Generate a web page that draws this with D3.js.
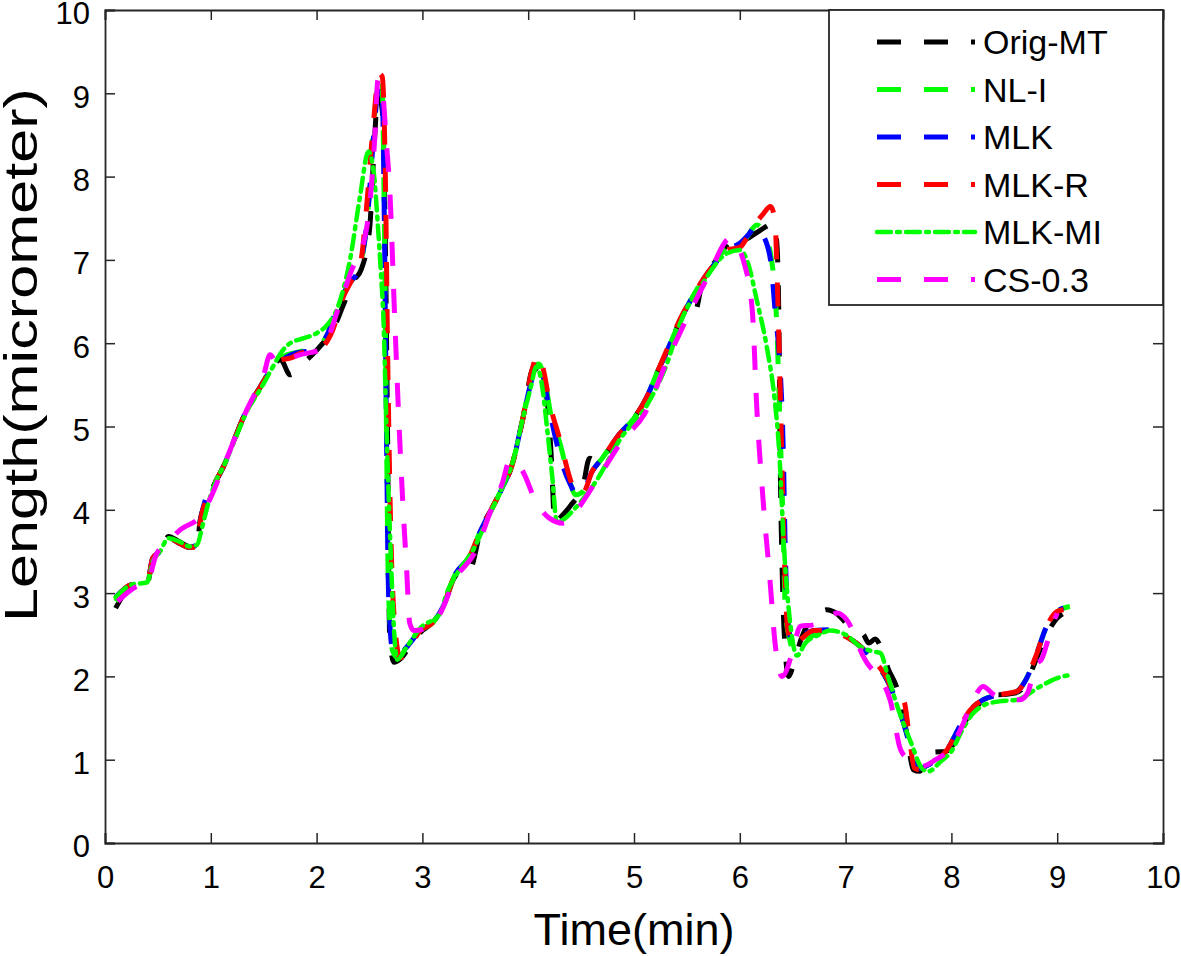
<!DOCTYPE html>
<html>
<head>
<meta charset="utf-8">
<script src="https://cdn.jsdelivr.net/npm/d3@7"></script>
<style>
  html, body { margin: 0; padding: 0; background: #fff; }
  svg { display: block; }
  text { font-family: Arial, "Liberation Sans", Helvetica, sans-serif; fill: #000; }
</style>
</head>
<body>
<svg id="chart" width="1181" height="956"></svg>
<script>
// ---------------- data ----------------
const xTicks = [0, 1, 2, 3, 4, 5, 6, 7, 8, 9, 10];
const yTicks = [0, 1, 2, 3, 4, 5, 6, 7, 8, 9, 10];
const seriesNames = ["Orig-MT", "NL-I", "MLK", "MLK-R", "MLK-MI", "CS-0.3"];

// Orig-MT
const origX = [0.10,0.25,0.40,0.45,0.52,0.60,0.70,0.80,0.87,0.90,0.97,1.05,1.12,1.24,1.34,1.47,1.58,1.66,1.75,1.87,1.95,2.06,2.15,2.25,2.35,2.42,2.50,2.55,2.58,2.62,2.65,2.67,2.69,2.73,2.80,2.90,3.00,3.10,3.20,3.30,3.38,3.42,3.46,3.55,3.65,3.75,3.85,3.95,4.05,4.12,4.18,4.22,4.25,4.30,4.40,4.52,4.58,4.62,4.66,4.75,4.87,5.00,5.12,5.22,5.31,5.44,5.52,5.57,5.65,5.78,5.88,5.96,6.05,6.15,6.25,6.32,6.35,6.37,6.38,6.40,6.43,6.46,6.52,6.58,6.64,6.72,6.82,6.92,7.02,7.10,7.17,7.22,7.28,7.33,7.40,7.50,7.58,7.64,7.70,7.76,7.83,7.95,8.05,8.15,8.25,8.35,8.45,8.60,8.70,8.80,8.90,9.00,9.05];
const origY = [2.82,3.08,3.12,3.40,3.50,3.68,3.62,3.56,3.58,3.88,4.12,4.35,4.52,4.90,5.20,5.48,5.72,5.80,5.62,5.76,5.85,6.00,6.15,6.45,6.75,6.88,7.36,8.50,9.00,8.80,7.20,5.00,2.50,2.17,2.22,2.40,2.55,2.65,2.85,3.18,3.28,3.25,3.30,3.75,4.00,4.25,4.55,5.10,5.70,5.65,5.30,4.60,3.83,3.90,4.05,4.30,4.62,4.60,4.55,4.70,4.92,5.10,5.35,5.65,5.90,6.28,6.45,6.35,6.76,7.00,7.18,7.28,7.25,7.32,7.40,7.44,7.20,6.20,4.80,3.30,2.30,2.00,2.20,2.45,2.62,2.72,2.80,2.75,2.62,2.55,2.50,2.40,2.45,2.36,2.10,1.80,1.30,0.88,0.86,1.00,1.09,1.10,1.25,1.50,1.65,1.80,1.78,1.80,1.90,2.20,2.50,2.70,2.75];

// NL-I (mostly hidden under the other curves)
const nliX = [0.10,0.25,0.40,0.45,0.52,0.60,0.70,0.80,0.87,0.90,0.97,1.05,1.12,1.24,1.34,1.47,1.58,1.70,1.85,2.00,2.10,2.20,2.30,2.40,2.48,2.54,2.59,2.62,2.64,2.66,2.68,2.72,2.77,2.85,2.98,3.10,3.20,3.30,3.45,3.55,3.65,3.75,3.85,3.95,4.05,4.10,4.15,4.22,4.30,4.38,4.45,4.52,4.60,4.70,4.87,5.00,5.12,5.22,5.31,5.44,5.55,5.65,5.78,5.88,6.00,6.08,6.16,6.22,6.30,6.35,6.38,6.41,6.43,6.47,6.52,6.60,6.70,6.85,7.00,7.10,7.26,7.39,7.50,7.58,7.65,7.70,7.80,7.96,8.08,8.18,8.30,8.46,8.62,8.70,8.80,8.90,9.00,9.12];
const nliY = [2.90,3.10,3.12,3.40,3.50,3.66,3.60,3.55,3.58,3.85,4.12,4.35,4.52,4.90,5.20,5.48,5.72,5.85,5.90,5.95,6.10,6.45,6.70,6.90,7.50,8.60,9.20,9.10,7.50,5.00,3.00,2.30,2.22,2.35,2.55,2.65,2.85,3.20,3.45,3.75,4.00,4.25,4.55,5.10,5.70,5.75,5.60,5.10,4.80,4.40,4.18,4.22,4.45,4.62,4.92,5.10,5.35,5.65,5.90,6.28,6.55,6.76,6.98,7.15,7.15,7.30,7.42,7.35,7.00,6.20,5.00,3.80,2.80,2.45,2.30,2.40,2.50,2.55,2.48,2.40,2.20,1.96,1.65,1.30,0.95,0.90,0.95,1.12,1.40,1.60,1.72,1.78,1.82,1.95,2.25,2.60,2.78,2.84];

// MLK
const mlkX = [0.10,0.25,0.40,0.45,0.52,0.60,0.70,0.80,0.87,0.90,0.97,1.05,1.12,1.24,1.34,1.47,1.58,1.70,1.80,1.90,2.00,2.10,2.20,2.30,2.40,2.48,2.54,2.59,2.62,2.64,2.66,2.68,2.72,2.77,2.85,2.98,3.10,3.20,3.30,3.45,3.55,3.65,3.75,3.85,3.95,4.05,4.09,4.14,4.20,4.26,4.32,4.40,4.46,4.52,4.60,4.70,4.87,5.00,5.12,5.22,5.31,5.44,5.55,5.65,5.78,5.88,6.00,6.08,6.16,6.22,6.29,6.34,6.37,6.41,6.43,6.46,6.50,6.58,6.70,6.85,7.00,7.10,7.26,7.39,7.50,7.58,7.65,7.70,7.80,7.96,8.08,8.18,8.30,8.46,8.62,8.70,8.80,8.90,9.00,9.06];
const mlkY = [2.95,3.10,3.12,3.42,3.50,3.66,3.60,3.55,3.58,3.85,4.20,4.35,4.52,4.90,5.20,5.48,5.70,5.82,5.88,5.90,5.95,6.10,6.45,6.70,6.90,7.50,8.50,9.10,9.00,7.50,5.00,3.00,2.30,2.25,2.35,2.55,2.65,2.85,3.20,3.45,3.75,4.00,4.25,4.55,5.10,5.62,5.70,5.60,5.20,4.85,4.56,4.30,4.18,4.22,4.45,4.62,4.92,5.10,5.35,5.65,5.90,6.28,6.55,6.76,6.98,7.12,7.20,7.30,7.42,7.30,7.00,6.30,5.90,4.75,3.50,2.60,2.40,2.48,2.55,2.56,2.48,2.40,2.20,1.96,1.62,1.30,0.95,0.90,0.95,1.12,1.40,1.60,1.72,1.78,1.82,1.95,2.25,2.60,2.78,2.82];

// MLK-R
const mlkrX = [0.10,0.25,0.40,0.45,0.52,0.60,0.70,0.80,0.87,0.90,0.97,1.05,1.12,1.24,1.34,1.47,1.58,1.66,1.75,1.85,1.95,2.05,2.15,2.25,2.35,2.42,2.47,2.54,2.59,2.62,2.65,2.67,2.70,2.74,2.79,2.86,2.98,3.10,3.20,3.30,3.45,3.55,3.65,3.75,3.85,3.95,4.04,4.09,4.14,4.20,4.30,4.41,4.47,4.53,4.60,4.70,4.87,5.00,5.12,5.22,5.31,5.44,5.55,5.65,5.78,5.88,6.00,6.06,6.13,6.22,6.29,6.33,6.36,6.39,6.42,6.45,6.50,6.58,6.70,6.85,7.00,7.10,7.26,7.39,7.48,7.55,7.60,7.65,7.70,7.80,7.96,8.08,8.18,8.30,8.46,8.62,8.70,8.80,8.90,9.00,9.06];
const mlkrY = [2.93,3.10,3.12,3.42,3.50,3.66,3.60,3.55,3.55,3.85,4.15,4.35,4.52,4.90,5.20,5.48,5.70,5.80,5.82,5.88,5.90,5.95,6.15,6.55,6.80,7.00,7.60,8.68,9.24,9.20,8.00,6.00,3.80,2.60,2.22,2.32,2.55,2.65,2.85,3.20,3.45,3.75,4.00,4.25,4.55,5.10,5.70,5.86,5.70,5.30,4.84,4.32,4.18,4.22,4.45,4.62,4.92,5.10,5.35,5.65,5.92,6.30,6.55,6.76,6.98,7.12,7.15,7.25,7.40,7.55,7.64,7.50,6.50,5.00,3.50,2.60,2.36,2.45,2.55,2.55,2.48,2.40,2.20,1.98,1.72,1.70,1.30,0.90,0.88,0.95,1.12,1.40,1.60,1.72,1.78,1.82,1.95,2.25,2.60,2.78,2.80];

// MLK-MI
const mlkmiX = [0.10,0.25,0.40,0.45,0.52,0.60,0.70,0.80,0.87,0.92,0.97,1.05,1.12,1.24,1.34,1.47,1.58,1.66,1.75,1.88,2.00,2.10,2.19,2.32,2.41,2.49,2.54,2.58,2.61,2.63,2.66,2.70,2.73,2.76,2.85,2.98,3.17,3.23,3.33,3.48,3.64,3.75,3.86,3.95,4.02,4.08,4.13,4.18,4.23,4.27,4.35,4.43,4.65,4.87,5.12,5.31,5.44,5.65,5.88,6.00,6.08,6.16,6.26,6.33,6.37,6.42,6.48,6.54,6.62,6.75,6.85,7.00,7.15,7.26,7.33,7.40,7.50,7.62,7.72,7.78,7.90,8.00,8.10,8.20,8.30,8.45,8.62,8.84,9.00,9.14];
const mlkmiY = [2.95,3.10,3.13,3.38,3.50,3.66,3.62,3.56,3.58,3.80,4.05,4.35,4.52,4.88,5.18,5.45,5.70,5.88,6.00,6.06,6.12,6.22,6.40,7.03,7.76,8.30,8.05,7.40,6.80,6.36,5.00,3.50,2.60,2.20,2.35,2.58,2.76,3.00,3.24,3.52,3.96,4.25,4.60,5.10,5.45,5.72,5.50,4.96,4.36,3.85,3.90,4.00,4.36,4.85,5.25,5.75,6.25,6.72,7.08,7.12,6.95,6.52,5.92,5.32,4.75,3.50,2.60,2.25,2.40,2.50,2.55,2.50,2.35,2.30,2.28,2.00,1.60,1.20,0.90,0.86,0.98,1.10,1.35,1.55,1.65,1.70,1.72,1.88,1.98,2.02];

// CS-0.3
const csX = [0.12,0.30,0.40,0.48,0.60,0.71,0.90,1.00,1.12,1.24,1.34,1.45,1.50,1.56,1.62,1.75,1.84,2.03,2.12,2.20,2.32,2.47,2.52,2.55,2.58,2.62,2.66,2.69,2.74,2.78,2.82,2.85,2.88,2.92,3.07,3.17,3.30,3.50,3.65,3.75,3.83,3.94,4.08,4.20,4.33,4.46,4.65,4.90,5.10,5.30,5.50,5.70,5.91,6.05,6.12,6.16,6.22,6.29,6.33,6.40,6.50,6.57,6.70,6.85,6.92,7.01,7.17,7.42,7.52,7.60,7.72,7.85,8.00,8.10,8.20,8.30,8.40,8.55,8.65,8.72,8.80,8.85,8.95,9.00];
const csY = [2.90,3.08,3.12,3.45,3.62,3.76,3.92,4.15,4.52,4.90,5.20,5.48,5.62,5.86,5.78,5.82,5.86,5.92,6.10,6.40,6.84,7.36,7.92,8.47,9.16,9.05,8.40,7.88,6.24,5.00,3.96,3.31,2.64,2.55,2.60,2.76,3.15,3.50,4.00,4.30,4.60,4.48,4.08,3.90,3.84,4.00,4.36,4.85,5.15,5.75,6.30,6.80,7.26,6.92,6.36,5.24,4.12,3.08,2.44,2.00,2.30,2.60,2.62,2.72,2.76,2.68,2.23,1.72,1.12,1.00,0.92,1.00,1.15,1.40,1.70,1.88,1.78,1.72,1.72,1.80,2.15,2.20,2.60,2.76];

const seriesX = [origX, nliX, mlkX, mlkrX, mlkmiX, csX];
const seriesY = [origY, nliY, mlkY, mlkrY, mlkmiY, csY];
const colors = ["#000000", "#00ff00", "#0000ff", "#ff0000", "#00ff00", "#ff00ff"];

// ---------------- layout ----------------
const svg = d3.select("#chart");
const L = 105, R = 1163, T = 10, B = 843;
const x = d3.scaleLinear().domain([0, 10]).range([L, R]);
const y = d3.scaleLinear().domain([0, 10]).range([B, T]);
const axisColor = "#262626";
const fontFam = 'Arial, "Liberation Sans", Helvetica, sans-serif';

const dashStyles = ["24,23", "24,23", "24,23", "24,23", "14,6,3,6", "24,23"];
const lineWidths = [5, 5, 5, 5, 4.5, 5];

// clip
svg.append("clipPath").attr("id", "clip")
  .append("rect").attr("x", L).attr("y", T).attr("width", R - L).attr("height", B - T);

const plot = svg.append("g").attr("clip-path", "url(#clip)");
const lineGen = d3.line().x(d => x(d[0])).y(d => y(d[1])).curve(d3.curveMonotoneX);

seriesNames.forEach((name, i) => {
  const pts = seriesX[i].map((xv, k) => [xv, seriesY[i][k]]);
  plot.append("path")
    .datum(pts)
    .attr("d", lineGen)
    .attr("fill", "none")
    .attr("stroke", colors[i])
    .attr("stroke-width", lineWidths[i])
    .attr("stroke-dasharray", dashStyles[i])
    .attr("stroke-linecap", i === 4 ? "round" : "butt")
    .attr("stroke-linejoin", "round");
});

// axes (box with inward ticks on all sides)
const tickLen = 10;
const axG = svg.append("g");
const xb = d3.axisBottom(x).tickValues(xTicks).tickSize(-tickLen).tickPadding(23).tickFormat(d3.format("d"));
const xt = d3.axisTop(x).tickValues(xTicks).tickSize(-tickLen).tickFormat("");
const yl = d3.axisLeft(y).tickValues(yTicks).tickSize(-tickLen).tickPadding(15).tickFormat(d3.format("d"));
const yr = d3.axisRight(y).tickValues(yTicks).tickSize(-tickLen).tickFormat("");

function style(g) {
  g.selectAll(".domain").attr("stroke", axisColor).attr("stroke-width", 1.8);
  g.selectAll(".tick line").attr("stroke", axisColor).attr("stroke-width", 1.5);
  g.selectAll(".tick text").attr("font-size", 31).attr("fill", "#262626")
    .attr("font-family", fontFam);
}
axG.append("g").attr("transform", `translate(0,${B})`).call(xb).call(style);
axG.append("g").attr("transform", `translate(0,${T})`).call(xt).call(style);
const gy = axG.append("g").attr("transform", `translate(${L},0)`).call(yl).call(style);
gy.selectAll(".tick text").attr("dy", "0.45em");
axG.append("g").attr("transform", `translate(${R},0)`).call(yr).call(style);

// axis labels
svg.append("text")
  .attr("x", (L + R) / 2).attr("y", 945)
  .attr("text-anchor", "middle")
  .attr("font-size", 45)
  .attr("fill", "#262626")
  .text("Time(min)");
svg.append("text")
  .attr("transform", `translate(37,355) rotate(-90)`)
  .attr("text-anchor", "middle")
  .attr("font-size", 46)
  .attr("fill", "#262626")
  .attr("textLength", 534)
  .attr("lengthAdjust", "spacingAndGlyphs")
  .text("Length(micrometer)");

// legend
const lg = svg.append("g");
lg.append("rect").attr("x", 829).attr("y", T).attr("width", R - 829).attr("height", 295)
  .attr("fill", "#fff").attr("stroke", axisColor).attr("stroke-width", 1.8);
seriesNames.forEach((name, i) => {
  const yy = 42 + i * 47.5;
  lg.append("line").attr("x1", 877).attr("x2", 975).attr("y1", yy).attr("y2", yy)
    .attr("stroke", colors[i]).attr("stroke-width", lineWidths[i])
    .attr("stroke-dasharray", dashStyles[i])
    .attr("stroke-linecap", i === 4 ? "round" : "butt");
  lg.append("text").attr("x", 983).attr("y", yy + 12)
    .attr("font-size", 34).text(name);
});
</script>
</body>
</html>
